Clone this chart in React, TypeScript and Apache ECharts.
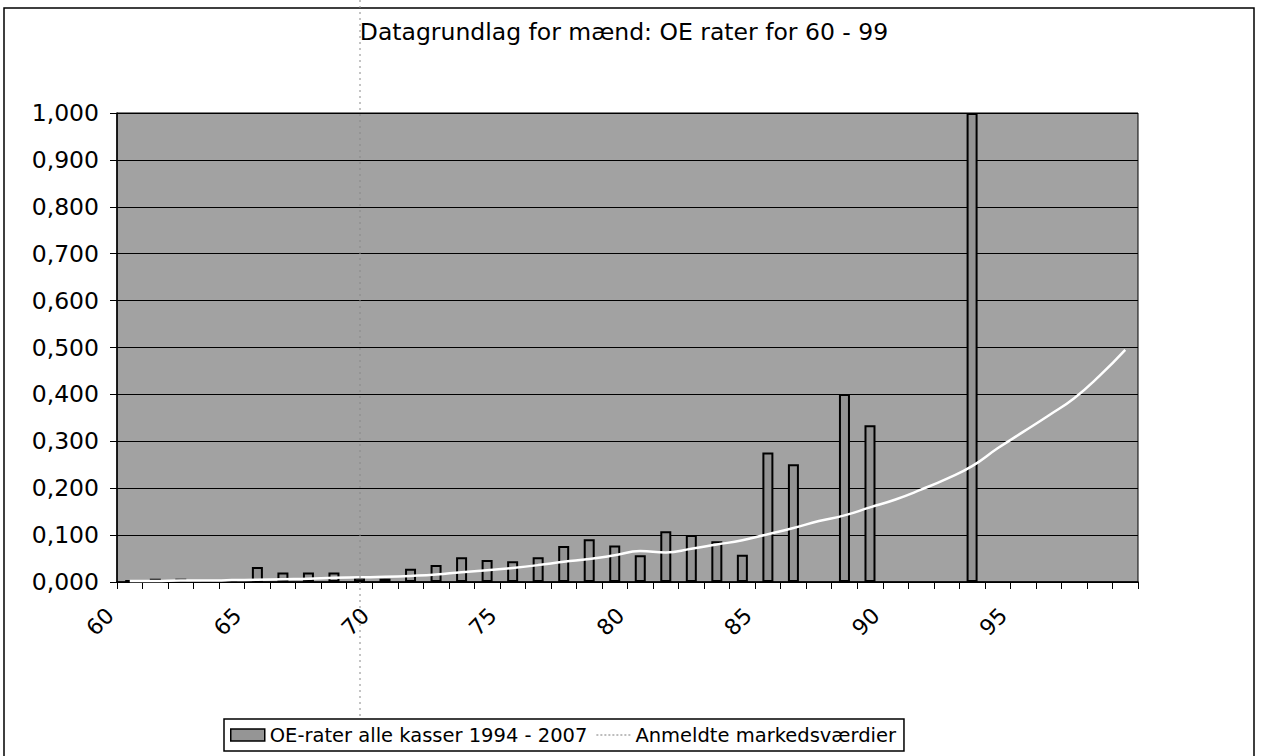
import React, { useEffect, useRef } from "react";
import * as echarts from "echarts";

const titleText = "Datagrundlag for mænd: OE rater for 60 - 99";
const barName = "OE-rater alle kasser 1994 - 2007";
const lineName = "Anmeldte markedsværdier";

const ages = [
  "60", "61", "62", "63", "64", "65", "66", "67", "68", "69",
  "70", "71", "72", "73", "74", "75", "76", "77", "78", "79",
  "80", "81", "82", "83", "84", "85", "86", "87", "88", "89",
  "90", "91", "92", "93", "94", "95", "96", "97", "98", "99",
];

const oeRates = [
  0.004, 0.007, 0.007, 0.002, 0.001, 0.032, 0.020, 0.020, 0.020, 0.009,
  0.007, 0.028, 0.036, 0.053, 0.047, 0.044, 0.053, 0.077, 0.091, 0.078,
  0.057, 0.108, 0.100, 0.087, 0.058, 0.276, 0.251, null, 0.401, 0.334,
  null, null, null, 1.0, null, null, null, null, null, null,
];

const marketValues = [
  0.002, 0.002, 0.003, 0.003, 0.004, 0.005, 0.006, 0.007, 0.009, 0.010,
  0.011, 0.013, 0.016, 0.021, 0.025, 0.030, 0.036, 0.043, 0.049, 0.057,
  0.066, 0.063, 0.071, 0.080, 0.089, 0.102, 0.115, 0.130, 0.142, 0.159,
  0.176, 0.197, 0.220, 0.247, 0.285, 0.320, 0.355, 0.392, 0.440, 0.495,
];

const FONT = "DejaVu Sans";

export default function App() {
  const ref = useRef<HTMLDivElement>(null);
  useEffect(() => {
    if (!ref.current) return;
    const chart = echarts.init(ref.current, null, { renderer: "svg" });
    chart.setOption({
      animation: false,
      backgroundColor: "#ffffff",
      title: {
        text: titleText,
        left: 619,
        top: 15,
        textAlign: "center",
        textStyle: { fontFamily: FONT, fontSize: 23.5, fontWeight: "normal", color: "#000" },
      },
      grid: {
        left: 117,
        right: 124,
        top: 113,
        bottom: 174,
        show: true,
        backgroundColor: "#a2a2a2",
        borderColor: "#000",
        borderWidth: 1,
      },
      legend: {
        left: 224,
        top: 719,
        orient: "horizontal",
        padding: [6, 8, 6, 6],
        itemGap: 8,
        itemWidth: 34,
        itemHeight: 12,
        borderColor: "#000",
        borderWidth: 1.5,
        backgroundColor: "#fff",
        textStyle: { fontFamily: FONT, fontSize: 19.5, color: "#000" },
        data: [
          { name: barName, icon: "rect", itemStyle: { color: "#959595", borderColor: "#000", borderWidth: 1.5 } },
          {
            name: lineName,
            itemStyle: { color: "rgba(0,0,0,0)", borderColor: "rgba(0,0,0,0)", borderWidth: 0, opacity: 0 },
            lineStyle: { color: "#bdbdbd", width: 2, type: "dotted" },
          },
        ],
      },
      xAxis: {
        type: "category",
        data: ages,
        boundaryGap: true,
        axisLine: { lineStyle: { color: "#000", width: 1.5 } },
        axisTick: { show: true, interval: 0, length: 7, lineStyle: { color: "#000" } },
        axisLabel: {
          interval: 4,
          rotate: 45,
          margin: 10,
          padding: [0, 28, 0, 0],
          fontFamily: FONT,
          fontSize: 22,
          color: "#000",
        },
        splitLine: { show: false },
      },
      yAxis: {
        type: "value",
        min: 0,
        max: 1,
        interval: 0.1,
        axisLine: { show: true, lineStyle: { color: "#000", width: 1.5 } },
        axisTick: { show: true, length: 7, lineStyle: { color: "#000" } },
        axisLabel: {
          margin: 18,
          fontFamily: FONT,
          fontSize: 23.5,
          color: "#000",
          formatter: (v: number) => v.toFixed(3).replace(".", ","),
        },
        splitLine: { show: true, lineStyle: { color: "#000", width: 1 } },
      },
      series: [
        {
          name: barName,
          type: "bar",
          data: oeRates,
          barWidth: 11,
          itemStyle: { color: "#939393", borderColor: "#000", borderWidth: 2 },
        },
        {
          name: lineName,
          type: "line",
          data: marketValues,
          smooth: true,
          symbol: "none",
          showSymbol: false,
          lineStyle: { color: "#ffffff", width: 2.5 },
          itemStyle: { color: "#ffffff" },
        },
      ],
      graphic: [
        {
          type: "rect",
          shape: { x: 4, y: 8, width: 1250, height: 760 },
          style: { fill: "none", stroke: "#000", lineWidth: 1.5 },
          silent: true,
          z: 100,
        },
        {
          type: "line",
          shape: { x1: 360, y1: 0, x2: 360, y2: 718 },
          style: { stroke: "#888", lineWidth: 1, lineDash: [2, 4] },
          silent: true,
          z: 100,
        },
      ],
    });
    return () => chart.dispose();
  }, []);
  return (
    <div
      ref={ref}
      style={{ position: "absolute", left: 0, top: 0, width: 1262, height: 756 }}
    />
  );
}
